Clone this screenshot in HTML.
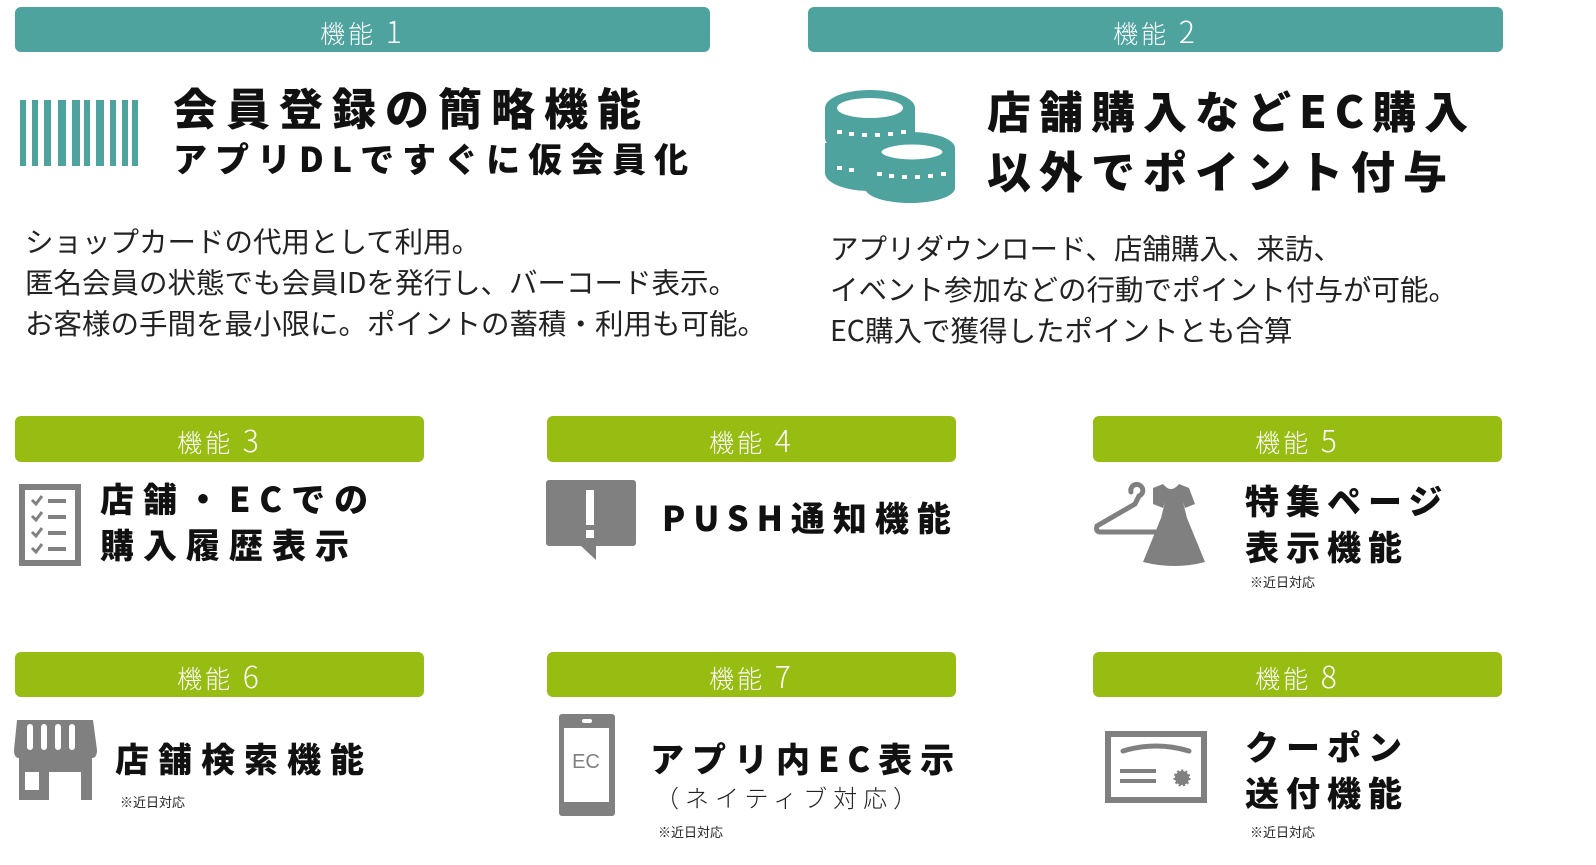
<!DOCTYPE html>
<html><head><meta charset="utf-8"><style>
body{margin:0;width:1596px;height:865px;background:#fff;position:relative;overflow:hidden;font-family:"Liberation Sans","Noto Sans CJK JP",sans-serif;color:#111}
.a{position:absolute;white-space:nowrap}
.bar{position:absolute;border-radius:6px;color:#fff;text-align:center;font-size:25px;line-height:46px;font-family:"Noto Sans CJK JP",sans-serif;font-weight:300;letter-spacing:3px}
.t{background:#4fa39f}.g{background:#97bd13}
.bar span{font-size:30px}
.h{font-family:"Noto Sans CJK JP",sans-serif;font-weight:900;color:#111}
.b{font-family:"Noto Sans CJK JP",sans-serif;font-size:28.5px;line-height:41px;color:#222}
.s{font-family:"Noto Sans CJK JP",sans-serif;font-size:13px;color:#222}
</style></head><body>
<div class="bar t" style="left:15px;top:7px;width:695px;height:45px">機能<span> 1</span></div>
<div class="bar t" style="left:808px;top:7px;width:695px;height:45px">機能<span> 2</span></div>
<div class="bar g" style="left:15px;top:416px;width:409px;height:46px">機能<span> 3</span></div>
<div class="bar g" style="left:547px;top:416px;width:409px;height:46px">機能<span> 4</span></div>
<div class="bar g" style="left:1093px;top:416px;width:409px;height:46px">機能<span> 5</span></div>
<div class="bar g" style="left:15px;top:652px;width:409px;height:45px">機能<span> 6</span></div>
<div class="bar g" style="left:547px;top:652px;width:409px;height:45px">機能<span> 7</span></div>
<div class="bar g" style="left:1093px;top:652px;width:409px;height:45px">機能<span> 8</span></div>

<svg class="a" style="left:20px;top:100px" width="120" height="68"><g fill="#4fa39f">
<rect x="0" y="0" width="6" height="66"/><rect x="12" y="0" width="6" height="66"/><rect x="24" y="0" width="7" height="66"/><rect x="38" y="0" width="8" height="66"/><rect x="52" y="0" width="8" height="66"/><rect x="64" y="0" width="6" height="66"/><rect x="76" y="0" width="8" height="66"/><rect x="90" y="0" width="6" height="66"/><rect x="102" y="0" width="6" height="66"/><rect x="112" y="0" width="6" height="66"/></g></svg>
<div class="a h" style="left:173px;top:76px;font-size:44px;letter-spacing:9px;line-height:60px">会員登録の簡略機能</div>
<div class="a h" style="left:173px;top:133px;font-size:34px;letter-spacing:8px;line-height:50px">アプリDLですぐに仮会員化</div>
<div class="a b" style="left:25px;top:220px">ショップカードの代用として利用。<br>匿名会員の状態でも会員IDを発行し、バーコード表示。<br>お客様の手間を最小限に。ポイントの蓄積・利用も可能。</div>

<svg class="a" style="left:825px;top:88px" width="135" height="115"><g fill="#4fa39f">
<ellipse cx="45" cy="20" rx="45" ry="18"/><rect x="0" y="20" width="90" height="30"/><ellipse cx="45" cy="50" rx="45" ry="18"/>
<rect x="0" y="55" width="90" height="30"/><ellipse cx="45" cy="85" rx="45" ry="18"/>
<ellipse cx="85" cy="60" rx="45" ry="16" /><rect x="40" y="60" width="90" height="40"/><ellipse cx="85" cy="100" rx="45" ry="15"/></g>
<ellipse cx="45" cy="20" rx="33" ry="10" fill="#fff"/><ellipse cx="87" cy="64" rx="32" ry="9" fill="#fff" stroke="#4fa39f" stroke-width="3"/>
<g fill="#fff"><rect x="12" y="42" width="5" height="4"/><rect x="24" y="44" width="5" height="4"/><rect x="37" y="45" width="5" height="4"/><rect x="50" y="45" width="5" height="4"/><rect x="63" y="44" width="5" height="4"/><rect x="76" y="42" width="5" height="4"/>
<rect x="52" y="84" width="5" height="4"/><rect x="64" y="86" width="5" height="4"/><rect x="77" y="87" width="5" height="4"/><rect x="90" y="87" width="5" height="4"/><rect x="103" y="86" width="5" height="4"/><rect x="116" y="84" width="5" height="4"/>
<rect x="12" y="78" width="5" height="4"/><rect x="24" y="80" width="5" height="4"/></g></svg>
<div class="a h" style="left:987px;top:79px;font-size:44px;letter-spacing:8px;line-height:60px">店舗購入などEC購入<br>以外でポイント付与</div>
<div class="a b" style="left:830px;top:227px">アプリダウンロード、店舗購入、来訪、<br>イベント参加などの行動でポイント付与が可能。<br>EC購入で獲得したポイントとも合算</div>

<svg class="a" style="left:19px;top:484px" width="62" height="82"><rect x="3" y="3" width="56" height="76" fill="none" stroke="#808080" stroke-width="6"/>
<g stroke="#808080" stroke-width="3" fill="none"><path d="M13 16l4 4 6-8M13 32l4 4 6-8M13 48l4 4 6-8M13 64l4 4 6-8"/></g>
<g fill="#808080"><rect x="29" y="15" width="18" height="4"/><rect x="29" y="31" width="18" height="4"/><rect x="29" y="47" width="18" height="4"/><rect x="29" y="63" width="18" height="4"/></g></svg>
<div class="a h" style="left:100px;top:475px;font-size:34px;letter-spacing:9px;line-height:46px">店舗・ECでの<br>購入履歴表示</div>

<svg class="a" style="left:546px;top:480px" width="90" height="82"><path d="M3 0h84a3 3 0 0 1 3 3v60a3 3 0 0 1-3 3H50v14L35 66H3a3 3 0 0 1-3-3V3a3 3 0 0 1 3-3z" fill="#808080"/><rect x="40" y="10" width="8" height="35" fill="#fff"/><rect x="40" y="50" width="8" height="8" fill="#fff"/></svg>
<div class="a h" style="left:662px;top:492px;font-size:34px;letter-spacing:8px;line-height:50px">PUSH通知機能</div>

<svg class="a" style="left:1093px;top:478px" width="112" height="88"><g stroke="#808080" stroke-width="5" fill="none" stroke-linecap="round"><path d="M38 14a6 6 0 1 1 8 4l-4 8L4 48q-2 6 4 6h70"/></g>
<path d="M60 10l10 -4q8 10 16 0l10 4 6 16-10 4 -2 -6 4 16 18 44q-30 8-62 0l18-44 4-16-2 6-10-4z" fill="#808080"/></svg>
<div class="a h" style="left:1245px;top:477px;font-size:34px;letter-spacing:7px;line-height:46px">特集ページ<br>表示機能</div>
<div class="a s" style="left:1250px;top:572px">※近日対応</div>

<svg class="a" style="left:14px;top:720px" width="84" height="80"><path d="M3 0h76l4 30q0 8-5 8v42H5V38q-5 0-5-8z" fill="#808080"/>
<g fill="#fff"><rect x="13" y="4" width="6" height="26" rx="3"/><rect x="27" y="4" width="6" height="26" rx="3"/><rect x="41" y="4" width="6" height="26" rx="3"/><rect x="55" y="4" width="6" height="26" rx="3"/><rect x="11" y="52" width="14" height="18"/><rect x="35" y="52" width="32" height="28"/></g></svg>
<div class="a h" style="left:115px;top:733px;font-size:34px;letter-spacing:9px;line-height:50px">店舗検索機能</div>
<div class="a s" style="left:120px;top:792px">※近日対応</div>

<svg class="a" style="left:559px;top:714px" width="56" height="102"><rect x="0" y="0" width="56" height="102" rx="3" fill="#808080"/><rect x="5" y="14" width="45" height="74" fill="#fff"/><rect x="23" y="5" width="10" height="4" rx="2" fill="#fff"/><text x="27" y="54" font-size="20" fill="#808080" text-anchor="middle" font-family="Liberation Sans">EC</text></svg>
<div class="a h" style="left:650px;top:733px;font-size:34px;letter-spacing:8px;line-height:50px">アプリ内EC表示</div>
<div class="a" style="left:655px;top:779px;font-size:24px;letter-spacing:6px;font-family:'Noto Sans CJK JP',sans-serif;font-weight:300;color:#222">（ネイティブ対応）</div>
<div class="a s" style="left:658px;top:822px">※近日対応</div>

<svg class="a" style="left:1105px;top:731px" width="102" height="72"><rect x="3" y="3" width="96" height="66" fill="none" stroke="#808080" stroke-width="6"/>
<path d="M18 20q33-10 66 0" stroke="#808080" stroke-width="5" fill="none" stroke-linecap="round"/><rect x="15" y="38" width="36" height="4" fill="#808080"/><rect x="15" y="48" width="36" height="4" fill="#808080"/><circle cx="77" cy="47" r="7" fill="#808080" stroke="#808080" stroke-width="3" stroke-dasharray="2 2"/></svg>
<div class="a h" style="left:1245px;top:723px;font-size:34px;letter-spacing:7px;line-height:46px">クーポン<br>送付機能</div>
<div class="a s" style="left:1250px;top:822px">※近日対応</div>
</body></html>
